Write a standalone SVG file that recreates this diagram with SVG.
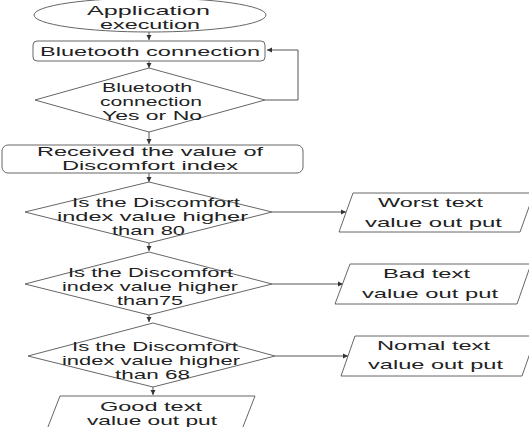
<svg xmlns="http://www.w3.org/2000/svg" width="529" height="427" viewBox="0 0 529 427">
<style>
.s{fill:#fff;stroke:#666;stroke-width:1}
.t{font-family:"Liberation Sans",Arial,sans-serif;font-size:13.5px;fill:#222;text-anchor:start}
.c{fill:none;stroke:#555;stroke-width:1}
</style>
<defs>
<marker id="a" markerWidth="6" markerHeight="6" refX="5" refY="3" orient="auto" markerUnits="userSpaceOnUse">
<path d="M0,0.5 L5,3 L0,5.5 Z" fill="#333"/>
</marker>
</defs>
<rect width="529" height="427" fill="#fff"/>
<g id="connectors">
<path class="c" d="M149,32 V40" marker-end="url(#a)"/>
<path class="c" d="M149,61 V68" marker-end="url(#a)"/>
<path class="c" d="M265,100 H298 V50 H267" marker-end="url(#a)"/>
<path class="c" d="M149,132 V144" marker-end="url(#a)"/>
<path class="c" d="M149,173 V182" marker-end="url(#a)"/>
<path class="c" d="M149,243 V251" marker-end="url(#a)"/>
<path class="c" d="M149,315 V322" marker-end="url(#a)"/>
<path class="c" d="M153,387 V395" marker-end="url(#a)"/>
<path class="c" d="M272,212 H346" marker-end="url(#a)"/>
<path class="c" d="M272,284 H343" marker-end="url(#a)"/>
<path class="c" d="M275,356 H348" marker-end="url(#a)"/>
</g>
<g id="start">
<ellipse class="s" cx="150" cy="15" rx="116" ry="17"/>
<text class="t" x="87" y="15" textLength="123" lengthAdjust="spacingAndGlyphs">Application</text>
<text class="t" x="100" y="29" textLength="100" lengthAdjust="spacingAndGlyphs">execution</text>
</g>
<g id="bt">
<rect class="s" x="33" y="41" width="232" height="20" rx="4"/>
<text class="t" x="40" y="56" textLength="220" lengthAdjust="spacingAndGlyphs">Bluetooth connection</text>
</g>
<g id="btq">
<polygon class="s" points="149,68 265,100 149,132 35,100"/>
<text class="t" x="102" y="92" textLength="90" lengthAdjust="spacingAndGlyphs">Bluetooth</text>
<text class="t" x="100" y="106" textLength="102" lengthAdjust="spacingAndGlyphs">connection</text>
<text class="t" x="102" y="120" textLength="100" lengthAdjust="spacingAndGlyphs">Yes or No</text>
</g>
<g id="recv">
<rect class="s" x="2" y="145" width="301" height="28" rx="6"/>
<text class="t" x="37" y="156" textLength="226" lengthAdjust="spacingAndGlyphs">Received the value of</text>
<text class="t" x="62" y="170" textLength="176" lengthAdjust="spacingAndGlyphs">Discomfort index</text>
</g>
<g id="q80">
<polygon class="s" points="149,182 272,212 149,243 25,212"/>
<text class="t" x="72" y="207" textLength="168" lengthAdjust="spacingAndGlyphs">Is the Discomfort</text>
<text class="t" x="57" y="221" textLength="191" lengthAdjust="spacingAndGlyphs">index value higher</text>
<text class="t" x="112" y="235" textLength="73" lengthAdjust="spacingAndGlyphs">than 80</text>
</g>
<g id="q75">
<polygon class="s" points="149,252 272,284 149,315 25,284"/>
<text class="t" x="68" y="277" textLength="165" lengthAdjust="spacingAndGlyphs">Is the Discomfort</text>
<text class="t" x="62" y="291" textLength="176" lengthAdjust="spacingAndGlyphs">index value higher</text>
<text class="t" x="117" y="305" textLength="66" lengthAdjust="spacingAndGlyphs">than75</text>
</g>
<g id="q68">
<polygon class="s" points="153,323 275,356 153,387 28,356"/>
<text class="t" x="72" y="351" textLength="166" lengthAdjust="spacingAndGlyphs">Is the Discomfort</text>
<text class="t" x="62" y="365" textLength="178" lengthAdjust="spacingAndGlyphs">index value higher</text>
<text class="t" x="115" y="379" textLength="75" lengthAdjust="spacingAndGlyphs">than 68</text>
</g>
<g id="good">
<polygon class="s" points="60,396 255,396 241,432 46,432"/>
<text class="t" x="100" y="411" textLength="102" lengthAdjust="spacingAndGlyphs">Good text</text>
<text class="t" x="87" y="425" textLength="130" lengthAdjust="spacingAndGlyphs">value out put</text>
</g>
<g id="worst">
<polygon class="s" points="353,193 534,193 520,232 339,232"/>
<text class="t" x="378" y="207" textLength="105" lengthAdjust="spacingAndGlyphs">Worst text</text>
<text class="t" x="365" y="227" textLength="137" lengthAdjust="spacingAndGlyphs">value out put</text>
</g>
<g id="bad">
<polygon class="s" points="350,264 531,264 517,304 335,304"/>
<text class="t" x="383" y="278" textLength="87" lengthAdjust="spacingAndGlyphs">Bad text</text>
<text class="t" x="362" y="298" textLength="136" lengthAdjust="spacingAndGlyphs">value out put</text>
</g>
<g id="normal">
<polygon class="s" points="355,336 536,336 522,376 341,376"/>
<text class="t" x="377" y="350" textLength="113" lengthAdjust="spacingAndGlyphs">Nomal text</text>
<text class="t" x="368" y="369" textLength="135" lengthAdjust="spacingAndGlyphs">value out put</text>
</g>
</svg>
